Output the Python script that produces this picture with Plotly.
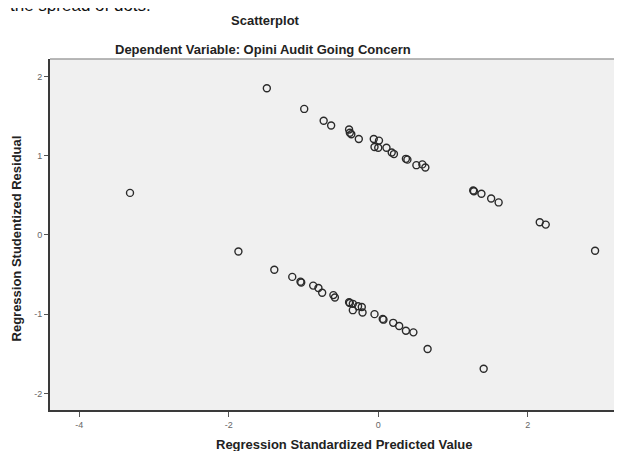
import plotly.graph_objects as go

# Regression Standardized Predicted Value (x) and Studentized Residual (y)
pred = [-3.32, -1.49, -0.99, -0.73, -0.63, -0.39, -0.38, -0.36, -0.26, -0.06,
        0.01, -0.05, 0.00, 0.11, 0.18, 0.21, 0.37, 0.39, 0.51, 0.59,
        0.63, 1.27, 1.28, 1.38, 1.51, 1.61, 2.16, 2.24, 2.90,
        -1.87, -1.39, -1.15, -1.04, -1.03, -0.87, -0.80, -0.75, -0.60, -0.58,
        -0.39, -0.38, -0.34, -0.27, -0.22, -0.34, -0.21, -0.05, 0.06, 0.07,
        0.20, 0.28, 0.37, 0.47, 0.66, 1.41]
resid = [0.53, 1.85, 1.59, 1.44, 1.38, 1.33, 1.29, 1.27, 1.21, 1.21,
         1.19, 1.11, 1.10, 1.10, 1.04, 1.02, 0.96, 0.95, 0.88, 0.89,
         0.85, 0.56, 0.55, 0.52, 0.46, 0.41, 0.16, 0.13, -0.20,
         -0.21, -0.44, -0.53, -0.59, -0.60, -0.64, -0.67, -0.73, -0.76, -0.79,
         -0.85, -0.86, -0.87, -0.90, -0.91, -0.95, -0.98, -1.00, -1.06, -1.07,
         -1.11, -1.15, -1.21, -1.23, -1.44, -1.69]

x_ticks = [-4, -2, 0, 2]
y_ticks = [-2, -1, 0, 1, 2]

FONT = "Arial, Liberation Sans, sans-serif"

fig = go.Figure()
fig.add_trace(go.Scatter(
    x=pred, y=resid, mode="markers",
    marker=dict(symbol="circle-open", size=7, color="#2a2a2a",
                line=dict(width=1.4, color="#2a2a2a")),
    hoverinfo="x+y", showlegend=False,
))

fig.update_layout(
    width=614, height=443,
    margin=dict(l=42, r=0, t=51, b=41),
    paper_bgcolor="white",
    plot_bgcolor="#f0f0f0",
    font=dict(family=FONT),
    xaxis=dict(range=[-4.39, 3.26], tickvals=x_ticks, ticktext=[str(v) for v in x_ticks],
               showgrid=False, zeroline=False, showline=True, linecolor="#3a3a3a", linewidth=2,
               ticks="outside", ticklen=5, tickcolor="#555", tickwidth=1,
               tickfont=dict(size=9, color="#666", family=FONT)),
    yaxis=dict(range=[-2.21, 2.22], tickvals=y_ticks, ticktext=[str(v) for v in y_ticks],
               showgrid=False, zeroline=False, showline=True, linecolor="#3a3a3a", linewidth=2,
               ticks="outside", ticklen=4, tickcolor="#555", tickwidth=1,
               tickfont=dict(size=9, color="#666", family=FONT)),
    shapes=[dict(type="line", xref="paper", yref="paper", x0=0, x1=1, y0=1, y1=1,
                 line=dict(color="#a0a0a0", width=1.5))],
    annotations=[
        dict(text="<b>Scatterplot</b>", x=0.376, y=1.111, xref="paper", yref="paper",
             showarrow=False, xanchor="center", yanchor="middle",
             font=dict(size=13, color="#222", family=FONT)),
        dict(text="<b>Dependent Variable: Opini Audit Going Concern</b>", x=0.372, y=1.028,
             xref="paper", yref="paper", showarrow=False, xanchor="center", yanchor="middle",
             font=dict(size=13, color="#222", family=FONT)),
        dict(text="<b>Regression Standardized Predicted Value</b>", x=0.514, y=-0.097,
             xref="paper", yref="paper", showarrow=False, xanchor="center", yanchor="middle",
             font=dict(size=13, color="#222", family=FONT)),
        dict(text="<b>Regression Studentized Residual</b>", x=-0.0586, y=0.49,
             xref="paper", yref="paper", showarrow=False, xanchor="center", yanchor="middle",
             textangle=-90, font=dict(size=13, color="#222", family=FONT)),
        dict(text="the spread of dots.", x=-0.0734, y=1.151, xref="paper", yref="paper",
             showarrow=False, xanchor="left", yanchor="middle",
             font=dict(size=17, color="#111", family=FONT)),
    ],
)

fig.write_html("out.html")
